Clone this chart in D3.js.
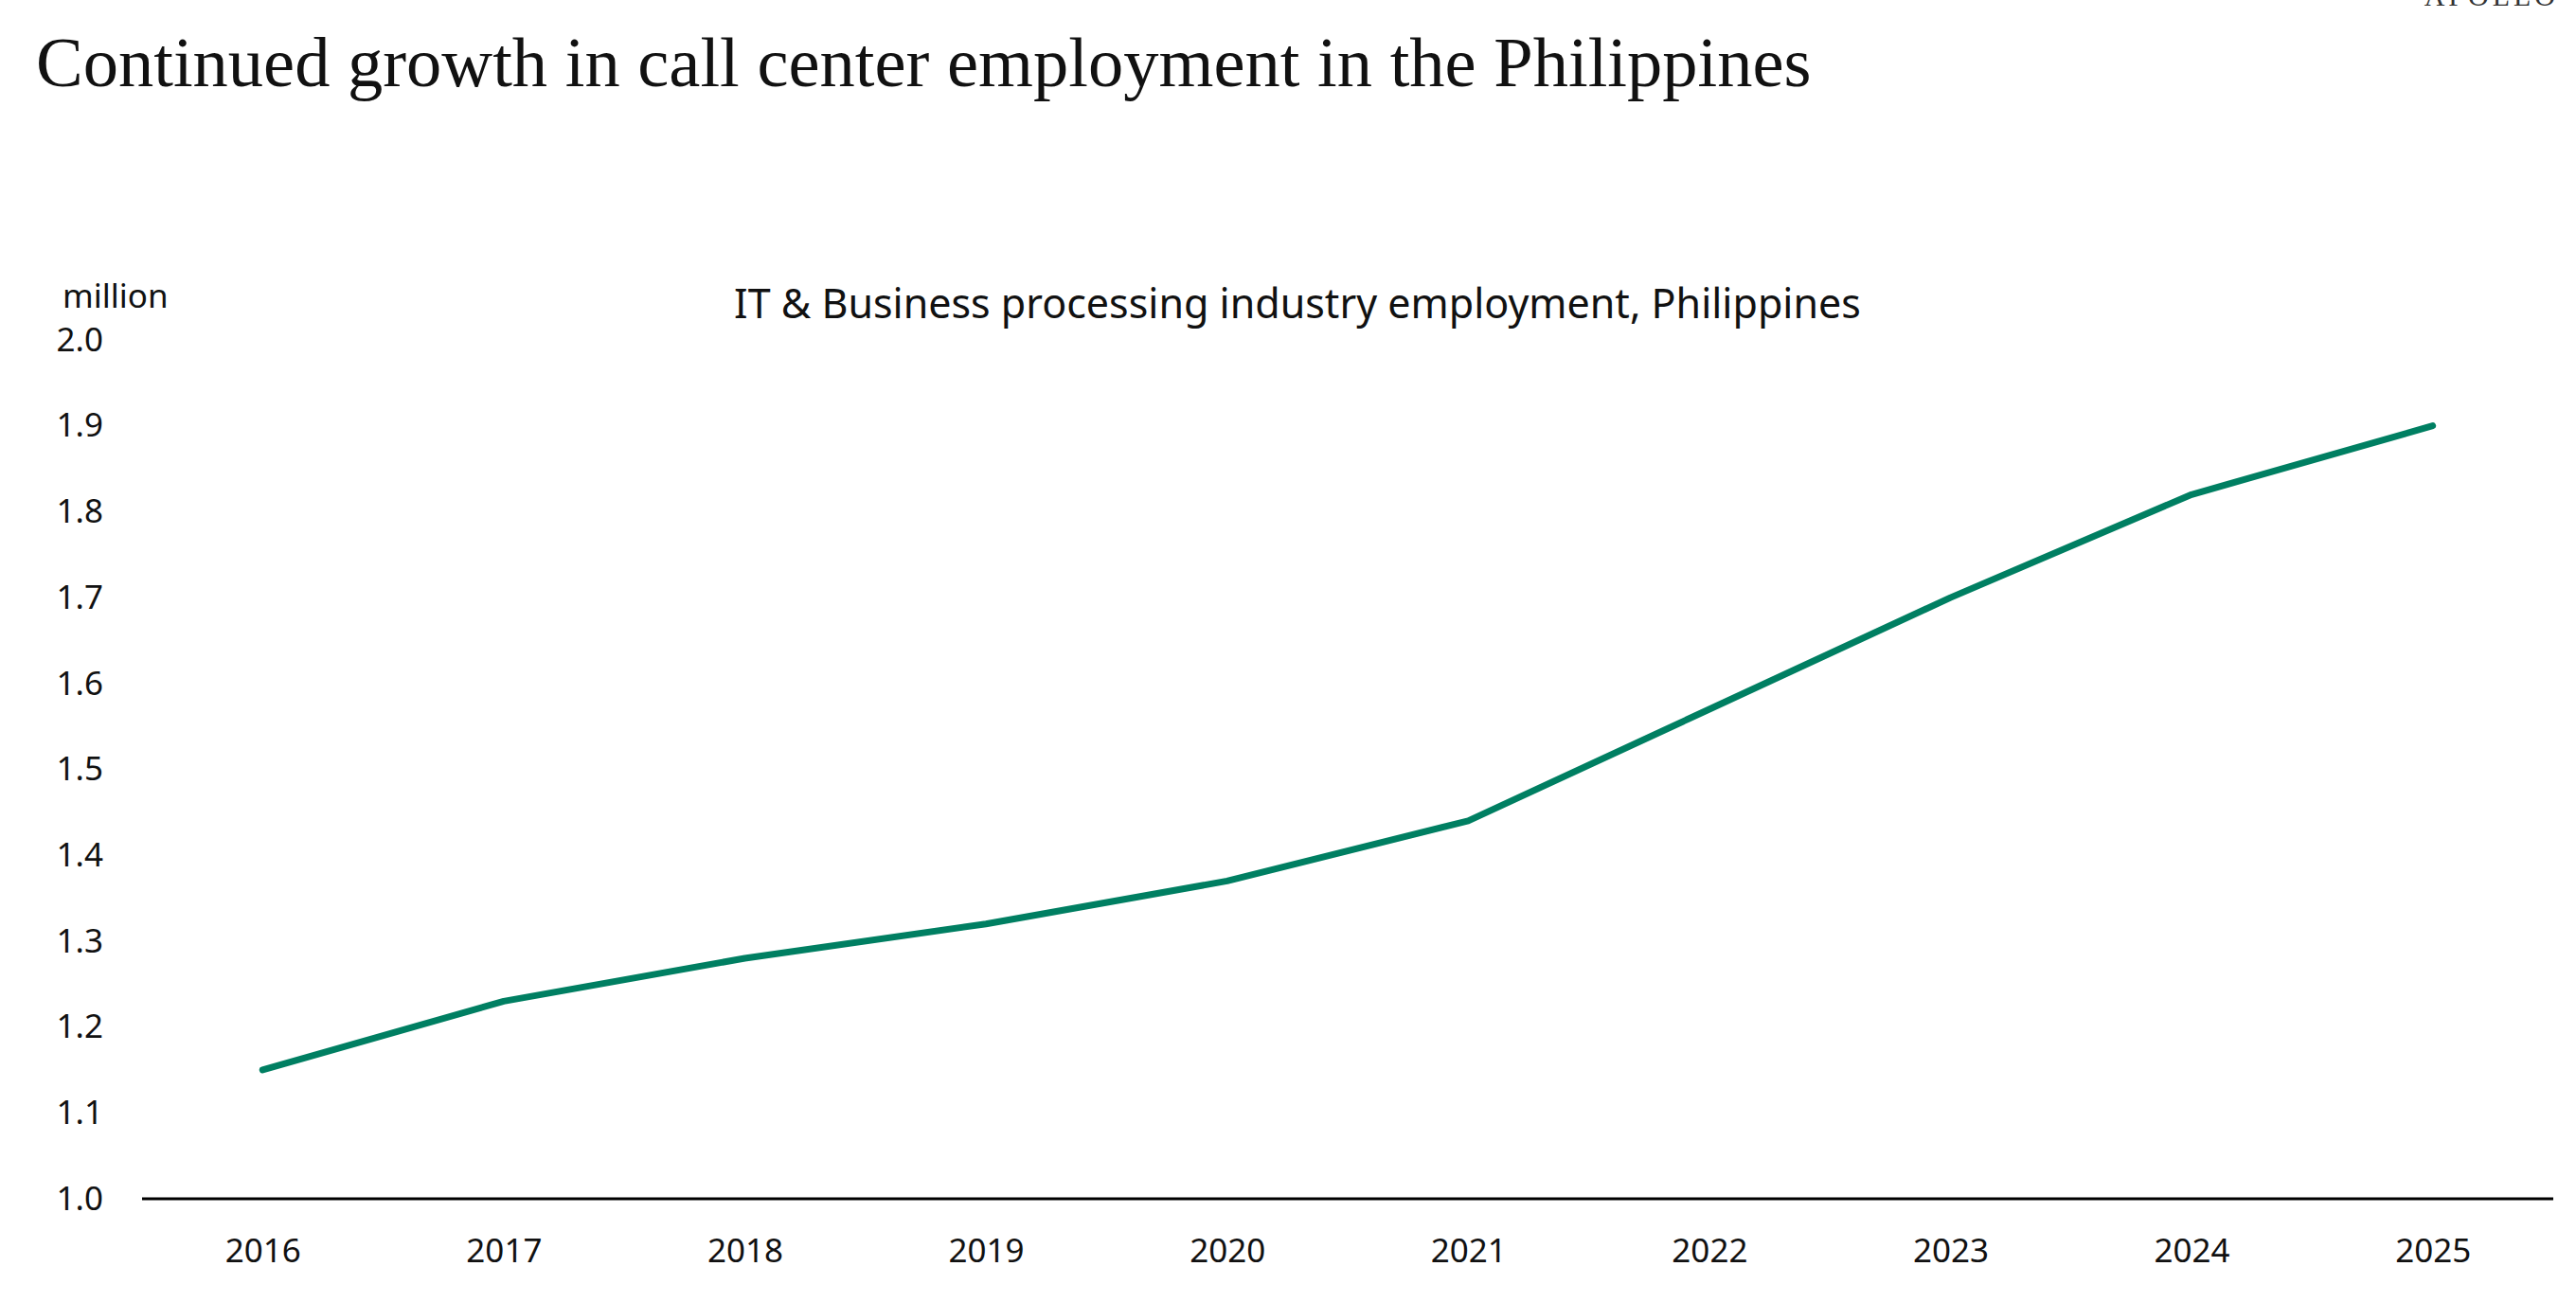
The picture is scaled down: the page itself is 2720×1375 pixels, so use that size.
<!DOCTYPE html>
<html>
<head>
<meta charset="utf-8">
<script src="https://cdn.jsdelivr.net/npm/d3@7"></script>
<style>
    body { margin: 0; background: #fff; }
    #chart { width: 2720px; height: 1375px; }
</style>
</head>
<body>
<div id="chart"></div>
<script>
// data
var years = ['2016', '2017', '2018', '2019', '2020', '2021', '2022', '2023', '2024', '2025'];
var employment = [1.15, 1.23, 1.28, 1.32, 1.37, 1.44, 1.57, 1.70, 1.82, 1.90];
var yTicks = [1.0, 1.1, 1.2, 1.3, 1.4, 1.5, 1.6, 1.7, 1.8, 1.9, 2.0];

var width = 2720;
var height = 1375;

var margin = {
    top: 359,
    bottom: 109,
    left: 150,
    right: 24
}

var svg = d3.select('#chart')
    .append('svg')
    .attr('width', width)
    .attr('height', height);

var sans = "'Noto Sans', 'Open Sans', sans-serif";
var serif = "'Liberation Serif', 'DejaVu Serif', serif";

var x_scale = d3.scalePoint()
    .domain(years)
    .range([margin.left, width - margin.right])
    .padding(0.5);

var y_scale = d3.scaleLinear()
    .domain([1.0, 2.0])
    .range([height - margin.bottom, margin.top]);

// title
var title = svg.append('text')
    .attr('x', 38)
    .attr('y', 91)
    .attr('font-family', serif)
    .attr('font-size', 72)
    .attr('fill', '#111')
    .text('Continued growth in call center employment in the Philippines');

// fit title to the width in the original
var tw = title.node().getComputedTextLength();
title.attr('font-size', 72 * 1875 / tw);

// logo, mostly above the top edge like the original
svg.append('text')
    .attr('x', 2702)
    .attr('y', 6)
    .attr('text-anchor', 'end')
    .attr('font-family', serif)
    .attr('font-size', 30)
    .attr('letter-spacing', 4)
    .attr('fill', '#333')
    .text('APOLLO');

svg.append('text')
    .attr('x', 1370)
    .attr('y', 336)
    .attr('text-anchor', 'middle')
    .attr('font-family', sans)
    .attr('font-size', 43)
    .attr('fill', '#111')
    .text('IT & Business processing industry employment, Philippines');

svg.append('text')
    .attr('x', 66)
    .attr('y', 325)
    .attr('font-family', sans)
    .attr('font-size', 35)
    .attr('fill', '#111')
    .text('million');

// y axis, labels only
var y_axis = d3.axisLeft(y_scale)
    .tickValues(yTicks)
    .tickFormat(d3.format('.1f'))
    .tickSize(0)
    .tickPadding(0);

svg.append('g')
    .attr('class', 'y axis')
    .attr('transform', 'translate(109,0)')
    .call(y_axis)
    .call(function (g) { g.select('.domain').remove(); })
    .selectAll('text')
    .attr('font-family', sans)
    .attr('font-size', 35)
    .attr('fill', '#111');

// x axis
var x_axis = d3.axisBottom(x_scale)
    .tickSize(0)
    .tickPadding(42);

var xg = svg.append('g')
    .attr('class', 'x axis')
    .attr('transform', 'translate(0,' + y_scale(1.0) + ')')
    .call(x_axis);

xg.select('.domain')
    .attr('d', 'M' + margin.left + ',0H' + (width - margin.right))
    .attr('stroke', '#000')
    .attr('stroke-width', 3);

xg.selectAll('text')
    .attr('font-family', sans)
    .attr('font-size', 35)
    .attr('fill', '#111');

// the series
var line = d3.line()
    .x(function (d, i) { return x_scale(years[i]); })
    .y(function (d) { return y_scale(d); });

svg.append('path')
    .datum(employment)
    .attr('d', line)
    .attr('fill', 'none')
    .attr('stroke', '#007f62')
    .attr('stroke-width', 7)
    .attr('stroke-linecap', 'round')
    .attr('stroke-linejoin', 'round');
</script>
</body>
</html>
